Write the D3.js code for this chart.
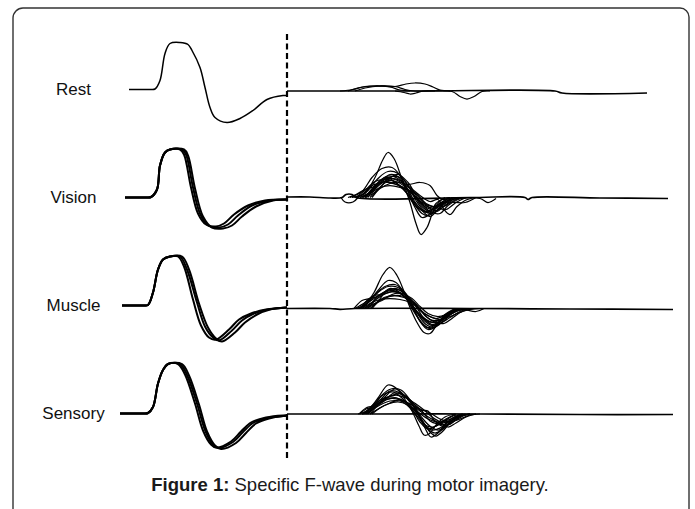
<!DOCTYPE html>
<html>
<head>
<meta charset="utf-8">
<script src="https://cdn.jsdelivr.net/npm/d3@7"></script>
<style>
  html, body { margin: 0; padding: 0; background: #fff; }
  svg { display: block; font-family: "Liberation Sans", Arial, Helvetica, sans-serif; }
</style>
</head>
<body>
<svg id="chart" width="695" height="509"></svg>
<script>
// Recording conditions, top to bottom
const conditions = ["Rest", "Vision", "Muscle", "Sensory"];

// Stimulus-to-F-window marker (ms)
const fWindowStart = 16.7;

// ---- M-wave sweeps: [time ms, amplitude] ----
const restM = [
  [[0.9,0],[3.0,0],[3.5,0.05],[4.0,0.9],[4.5,3.6],[5.0,4.6],[6.0,4.7],[6.8,4.5],[7.2,3.9],[8.0,2.2],[8.5,0.2],[9.0,-1.8],[9.5,-2.8],[10.7,-3.3],[12.0,-2.9],[13.3,-2.1],[14.7,-1.0],[16.3,-0.6],[16.7,-0.6]]
];
const visionM = [
  [[0.5,0],[2.6,0],[3.1,0.05],[3.7,0.8],[4.0,3.2],[4.5,4.5],[5.0,4.8],[6.0,4.8],[6.4,4.3],[7.1,1.0],[7.8,-1.6],[8.6,-2.7],[9.6,-2.9],[10.4,-2.6],[11.4,-1.7],[12.8,-0.8],[14.5,-0.3],[16.7,-0.2]],
  [[0.5,0],[2.6,0],[3.1,0.05],[3.7,0.8],[4.0,3.2],[4.5,4.5],[5.0,4.8],[6.2,4.8],[6.6,4.3],[7.3,1.0],[8.0,-1.6],[8.8,-2.8],[9.9,-3.0],[10.8,-2.7],[11.8,-1.8],[13.2,-0.8],[15.0,-0.3],[16.7,-0.2]],
  [[0.5,0],[2.6,0],[3.1,0.05],[3.7,0.8],[4.0,3.2],[4.5,4.5],[5.0,4.8],[6.4,4.8],[6.8,4.2],[7.5,0.9],[8.3,-1.9],[9.2,-3.0],[10.3,-3.1],[11.2,-2.8],[12.2,-1.9],[13.6,-0.9],[15.3,-0.3],[16.7,-0.2]]
];
const muscleM = [
  [[0.2,0],[2.3,0],[2.8,0.05],[3.3,1.3],[3.8,3.6],[4.3,4.6],[5.0,4.9],[5.8,4.9],[6.4,3.9],[7.3,0.6],[8.1,-2.0],[8.9,-3.2],[9.6,-3.4],[10.9,-2.4],[11.9,-1.4],[13.1,-0.8],[14.6,-0.4],[16.7,-0.2]],
  [[0.2,0],[2.3,0],[2.8,0.05],[3.3,1.3],[3.8,3.6],[4.3,4.6],[5.0,4.9],[6.0,4.9],[6.7,3.6],[7.7,0.3],[8.5,-2.1],[9.3,-3.2],[9.9,-3.5],[11.2,-2.5],[12.2,-1.5],[13.4,-0.8],[14.8,-0.4],[16.7,-0.2]],
  [[0.2,0],[2.3,0],[2.8,0.05],[3.3,1.3],[3.8,3.6],[4.3,4.6],[5.0,4.9],[6.2,4.9],[6.9,3.6],[7.9,0.2],[8.8,-2.2],[9.6,-3.3],[10.2,-3.6],[11.5,-2.7],[12.5,-1.7],[13.7,-0.9],[15.0,-0.4],[16.7,-0.2]]
];
const sensoryM = [
  [[0,0],[2.3,0],[2.8,0.05],[3.3,0.65],[3.8,3.0],[4.3,4.35],[4.8,4.95],[5.8,4.95],[6.5,3.9],[7.5,1.0],[8.3,-1.7],[9.1,-3.1],[9.6,-3.4],[11.1,-2.8],[12.1,-1.8],[13.1,-0.9],[14.6,-0.4],[16.3,-0.2],[16.7,-0.2]],
  [[0,0],[2.3,0],[2.8,0.05],[3.3,0.65],[3.8,3.0],[4.3,4.35],[4.8,4.95],[6.0,4.95],[6.7,3.85],[7.7,1.0],[8.5,-1.65],[9.3,-3.15],[9.8,-3.45],[11.3,-2.85],[12.3,-1.85],[13.3,-0.95],[14.7,-0.45],[16.3,-0.25],[16.7,-0.2]],
  [[0,0],[2.3,0],[2.8,0.05],[3.3,0.65],[3.8,3.0],[4.3,4.35],[4.8,4.95],[6.2,4.95],[6.9,3.8],[7.9,0.9],[8.7,-1.8],[9.5,-3.2],[10.1,-3.55],[11.6,-2.95],[12.6,-1.95],[13.6,-1.0],[14.9,-0.5],[16.3,-0.25],[16.7,-0.2]]
];

// ---- F-wave sweeps: baseline level of each sweep, then the baseline trace and the responses ----
const fLevel = [-0.15, 0, -0.3, -0.05];

const restFBase = [[16.7,0],[30,0],[43.5,0],[44.2,-0.2],[52.7,-0.2]];
const visionFBase = [[16.7,0.05],[19,0.05],[21,-0.05],[22.2,0],[22.6,0.3],[23.2,0.3],[23.6,0],[35,0],[40.5,0],[40.8,-0.2],[41.2,0],[48,-0.05],[54.8,-0.1]];
const muscleFBase = [[16.7,0],[21,0],[22,-0.08],[23.5,0],[35,0],[45,-0.05],[55.3,-0.1]];
const sensoryFBase = [[16.7,0],[25,0],[36,0],[46,-0.05],[55.3,-0.05]];

const restF = [
  [[22,0],[23.3,0.15],[24.5,0.45],[26,0.5],[27.5,0.45],[28.5,0.15],[29.5,0],[33.2,-0.05],[34.0,-0.55],[34.7,-0.8],[35.4,-0.55],[36.2,-0.05],[37,0]],
  [[23.5,0],[24.5,0.3],[26,0.5],[27.5,0.45],[28.6,0.7],[29.5,0.8],[30.5,0.7],[31.3,0.4],[32,0.1],[33,0]],
  [[27.5,0],[28.4,-0.15],[29,-0.3],[29.6,-0.2],[30.3,0],[31.5,0]],
  [[22.8,0],[24,0.35],[25.5,0.5],[27,0.4],[28,0.1],[29,0]]
];
const visionF = [
  [[23.5,0],[24.5,0.4],[25.5,2.0],[26.3,3.8],[26.8,4.5],[27.4,3.9],[28.2,1.8],[29.0,-0.5],[29.6,-2.6],[30.1,-3.7],[30.7,-3.0],[31.4,-1.2],[32.2,-0.2],[33,0]],
  [[23.0,0],[24.2,0.6],[25.2,2.0],[26.2,2.9],[27.2,3.0],[28.0,2.2],[28.8,0.6],[29.5,-1.0],[30.2,-2.0],[30.9,-1.7],[31.6,-0.6],[32.5,0]],
  [[24.5,0],[25.5,1.2],[26.5,2.0],[27.5,1.8],[28.7,1.3],[30,1.5],[31,1.2],[31.7,0.2],[32.3,-0.2],[33,0]],
  [[24,0],[25,0.5],[26,1.3],[27,1.9],[28,1.7],[29,1.0],[30,0.2],[31,-0.4],[31.8,-0.2],[32.4,-1.2],[33,-1.7],[33.7,-0.9],[34.5,-0.3],[35.5,0]],
  [[24.8,0],[25.6,1.2],[26.6,2.1],[27.6,2.0],[28.6,1.1],[29.4,-0.3],[30.3,-1.4],[31,-1.9],[31.8,-1.2],[32.6,-0.4],[33.4,0]],
  [[23.6,0],[24.6,0.8],[25.5,1.6],[26.4,1.8],[27.4,1.6],[28.4,0.8],[29.2,-0.4],[30,-1.2],[30.8,-1.5],[31.6,-0.9],[32.6,-0.2],[34,0]],
  [[24.2,0],[25.2,0.7],[26.0,1.5],[27.0,2.3],[27.8,2.1],[28.6,1.0],[29.4,-0.6],[30.2,-1.6],[30.9,-1.8],[31.7,-1.0],[32.5,-0.5],[34.5,-0.5],[35.6,0]],
  [[25,0],[26,0.9],[27,1.4],[28,1.5],[29,0.9],[30,-0.1],[30.8,-0.9],[31.6,-1.3],[32.4,-0.9],[33.4,-0.3],[34,0]],
  [[24,0],[25,0.4],[26,1.0],[27,1.2],[28,1.0],[29,0.6],[30,-0.4],[31,-1.0],[32,-0.6],[33,0]],
  [[24.5,0],[25.3,0.9],[26.1,1.7],[26.9,1.9],[27.9,1.2],[28.9,0.2],[29.8,-0.9],[30.6,-1.4],[31.4,-1.1],[32.3,-0.5],[33.3,-0.2],[36,-0.1],[36.8,-0.5],[37.6,-0.1]],
  [[23.2,0],[24.2,0.3],[25.2,1.2],[26.2,1.5],[27.2,1.7],[28.2,1.3],[29.2,0.4],[30.2,-0.7],[31.2,-1.2],[32.2,-0.7],[33.2,0]],
  [[24.6,0],[25.6,0.6],[26.6,1.5],[27.6,1.3],[28.6,0.8],[29.6,0.4],[30.6,-0.6],[31.6,-1.0],[32.6,-1.2],[33.6,-0.5],[34.6,0]],
  [[23.8,0],[24.8,0.7],[25.8,1.9],[26.8,2.6],[27.8,2.4],[28.8,1.2],[29.6,-0.3],[30.4,-1.3],[31.2,-1.6],[32,-1.0],[33,-0.3],[34,0]],
  [[24.3,0],[25.2,0.5],[26.2,1.6],[27.2,2.1],[28.2,1.9],[29.2,0.6],[30.1,-0.8],[30.9,-1.4],[31.7,-1.4],[32.6,-0.7],[33.6,0]],
  [[22.8,0],[23.6,0.3],[24.5,0.8],[25.4,1.1],[26.4,1.6],[27.4,1.4],[28.4,1.0],[29.4,0.2],[30.4,-0.6],[31.4,-0.9],[32.4,-0.5],[33.4,0]],
  [[25.2,0],[26,1.0],[26.8,1.8],[27.8,2.3],[28.8,1.5],[29.6,0.2],[30.4,-0.9],[31.2,-1.5],[32,-1.6],[32.8,-0.8],[33.8,-0.2],[35,0]],
  [[22.1,0],[22.5,-0.45],[23.3,-0.45],[23.8,0]]
];
const muscleF = [
  [[23.8,0],[24.6,0.5],[25.4,1.6],[26.3,3.4],[27.0,4.1],[27.7,3.3],[28.4,1.7],[29.0,0.1],[29.7,-1.4],[30.4,-2.4],[31.0,-2.5],[31.7,-1.6],[32.5,-0.6],[33.5,0]],
  [[23.5,0],[24.5,0.6],[25.5,1.4],[26.5,2.2],[27.5,2.4],[28.5,1.6],[29.3,0.2],[30.0,-1.3],[30.8,-2.1],[31.6,-1.8],[32.5,-0.8],[33.5,-0.2],[34.5,0]],
  [[24.2,0],[25,0.8],[25.8,1.6],[26.8,2.2],[27.8,2.1],[28.6,1.3],[29.4,-0.2],[30.2,-1.5],[31,-2.0],[31.8,-1.5],[32.8,-0.6],[34,0]],
  [[24.4,0],[25.2,0.6],[26,1.4],[27,1.9],[28,1.8],[29,0.8],[29.8,-0.6],[30.6,-1.6],[31.4,-1.9],[32.4,-1.2],[33.4,-0.4],[35,0]],
  [[24,0],[24.8,0.9],[25.4,1.3],[26.2,1.4],[27.2,1.7],[28.2,1.4],[29.2,0.3],[30.2,-0.9],[31.2,-1.4],[32.2,-1.0],[33.2,-0.3],[34,0]],
  [[25,0],[25.8,0.7],[26.6,1.7],[27.6,2.0],[28.6,1.4],[29.6,0.2],[30.4,-1.0],[31.2,-1.6],[32,-1.3],[33,-0.6],[34.2,-0.1],[35.6,-0.3],[36.4,0]],
  [[24.6,0],[25.4,0.4],[26.4,1.1],[27.4,1.3],[28.4,1.1],[29.4,0.6],[30.2,-0.3],[31,-1.1],[31.8,-1.2],[32.8,-0.7],[33.8,-0.2],[34.8,0]],
  [[23.6,0],[24.4,0.3],[25.4,1.0],[26.4,1.6],[27.4,1.8],[28.4,1.2],[29.4,0.0],[30.4,-1.2],[31.2,-1.7],[32,-1.5],[33,-0.9],[34,-0.3],[35,0]],
  [[25.2,0],[26,0.8],[27,1.2],[28,1.3],[29,0.9],[30,-0.2],[31,-0.8],[32,-1.1],[33,-0.8],[34,-0.4],[35,-0.1],[36,0]],
  [[24.2,0],[25,0.5],[26,0.9],[27,1.0],[28,0.9],[29,0.6],[29.8,0.1],[30.6,-0.6],[31.6,-1.0],[32.6,-0.6],[33.6,-0.1],[34.4,0]],
  [[24.0,0],[24.8,0.6],[25.8,1.8],[26.8,2.8],[27.6,2.6],[28.4,1.5],[29.2,0],[30,-1.2],[30.8,-1.9],[31.6,-1.6],[32.6,-0.6],[33.6,0]],
  [[23.4,0],[24.2,0.8],[25,1.0],[26,1.3],[27,2.0],[28,1.6],[29,0.6],[30,-0.6],[31,-1.3],[32,-1.3],[33,-0.6],[34,0]],
  [[24.8,0],[25.6,0.9],[26.6,1.5],[27.6,1.7],[28.6,1.3],[29.6,0.4],[30.6,-0.8],[31.6,-1.4],[32.4,-1.5],[33.2,-1.0],[34.2,-0.3],[35.4,0]],
  [[24.4,0],[25.2,0.4],[26.2,0.8],[27.2,1.4],[28.2,1.5],[29.2,1.0],[30,0.2],[30.8,-0.5],[31.8,-0.8],[32.8,-0.5],[33.8,0]]
];
const sensoryF = [
  [[24.2,0],[25,0.6],[25.8,1.6],[26.8,2.9],[27.6,2.6],[28.4,1.6],[29.2,0.3],[29.9,-1.2],[30.4,-2.1],[30.9,-2.0],[31.6,-1.1],[32.5,-0.3],[33.5,0]],
  [[24,0],[24.6,0.5],[25.3,0.7],[26.1,1.8],[27.1,2.5],[28.1,2.4],[29,1.4],[29.8,0.1],[30.5,-1.4],[31.1,-2.3],[31.8,-1.9],[32.6,-0.9],[33.6,-0.2],[34.5,0]],
  [[24.5,0],[25.3,0.9],[26.3,1.9],[27.3,2.2],[28.3,1.5],[29.2,0.5],[30,-0.8],[30.8,-1.5],[31.6,-1.2],[32.6,-0.5],[33.6,0]],
  [[24.3,0],[25.1,0.5],[26,1.2],[27,1.8],[28,2.0],[29,1.4],[30,0.4],[30.8,0.3],[31.4,-0.6],[32.2,-1.2],[33,-1.0],[33.8,-0.4],[34.6,0]],
  [[24.8,0],[25.6,0.8],[26.6,1.4],[27.6,1.6],[28.6,1.2],[29.6,0.2],[30.4,-1.0],[31.2,-1.6],[32,-1.4],[33,-0.7],[34,-0.2],[35,0]],
  [[23.8,0],[24.7,0.3],[25.7,1.0],[26.7,1.5],[27.7,1.5],[28.7,0.9],[29.7,-0.2],[30.5,-1.1],[31.3,-1.3],[32.3,-0.8],[33.3,-0.2],[34.3,0]],
  [[24.6,0],[25.4,0.6],[26.4,1.3],[27.4,2.1],[28.4,1.9],[29.4,1.0],[30.2,0.3],[31,-0.7],[31.8,-1.0],[32.8,-1.1],[33.6,-0.6],[34.6,-0.1],[35.6,0]],
  [[25,0],[25.8,0.5],[26.8,1.0],[27.8,1.2],[28.8,0.9],[29.8,0.2],[30.8,-0.5],[31.8,-0.8],[32.8,-0.6],[33.8,-0.2],[35,0]],
  [[24.4,0],[25.2,0.7],[26.2,1.5],[27.2,1.7],[28.2,1.4],[29.2,0.6],[30.2,-0.6],[31,-1.8],[31.6,-2.2],[32.2,-1.8],[33,-0.9],[34,-0.2],[35,0]],
  [[25.2,0],[26,0.6],[27,1.1],[28,1.4],[29,1.0],[30,0.5],[31,0.1],[32,-0.5],[33,-0.8],[34,-0.5],[35,-0.1],[36,0]],
  [[23.9,0],[24.6,0.6],[25.2,0.8],[26,1.4],[27,2.3],[28,2.1],[29,1.2],[30,-0.3],[30.8,-1.5],[31.5,-1.9],[32.3,-1.5],[33.2,-0.6],[34.2,0]],
  [[24.7,0],[25.5,0.7],[26.5,1.7],[27.5,2.5],[28.5,1.8],[29.5,0.6],[30.3,-0.5],[31.1,-1.3],[31.9,-1.6],[32.8,-1.0],[33.8,-0.3],[35,0]],
  [[24.2,0],[25,0.3],[26,0.9],[27,1.3],[28,1.3],[29,1.0],[30,0.3],[31,-0.4],[32,-0.9],[33,-0.7],[34,-0.2],[35,0]],
  [[25,0],[25.8,0.9],[26.6,1.6],[27.6,1.9],[28.6,1.6],[29.6,1.0],[30.4,0.4],[31.2,-0.3],[32,-0.8],[32.8,-1.3],[33.6,-0.9],[34.6,-0.3],[35.6,0]]
];

// Caption
const captionLead = "Figure 1:";
const captionText = " Specific F-wave during motor imagery.";

// ---- assemble per-condition table ----
const mSweeps = [restM, visionM, muscleM, sensoryM];
const fBases = [restFBase, visionFBase, muscleFBase, sensoryFBase];
const fResponses = [restF, visionF, muscleF, sensoryF];
const table = conditions.map((name, i) => ({
  name, m: mSweeps[i], fBase: fBases[i], f: fResponses[i], level: fLevel[i]
}));

// ---- scales ----
const svg = d3.select("#chart");
const x = d3.scaleLinear().domain([0, 56]).range([120, 680]);
const row = d3.scalePoint().domain(conditions).range([89.5, 413.5]);
const amp = d3.scaleLinear().domain([-5, 5]).range([50, -50]);

// ---- frame ----
svg.append("path")
  .attr("d", "M13,509 V18 A10,10 0 0 1 23,8 H680 A9,9 0 0 1 689,17 V509")
  .attr("fill", "none")
  .attr("stroke", "#333")
  .attr("stroke-width", 1.4);

const lineFor = (baseY, level) => d3.line()
  .x(d => x(d[0]))
  .y(d => baseY + amp(d[1] + level))
  .curve(d3.curveCatmullRom.alpha(0.5));

const groups = svg.selectAll("g.condition")
  .data(table)
  .join("g")
  .attr("class", "condition");

groups.each(function(c) {
  const g = d3.select(this);
  const y0 = row(c.name);
  const mLine = lineFor(y0, 0);
  const fLine = lineFor(y0, c.level);

  g.append("text")
    .attr("x", 73.5)
    .attr("y", y0 + 5.5)
    .attr("text-anchor", "middle")
    .attr("font-size", 17)
    .attr("fill", "#111")
    .text(c.name);

  g.selectAll("path.m")
    .data(c.m)
    .join("path")
    .attr("class", "m")
    .attr("d", mLine)
    .attr("fill", "none")
    .attr("stroke", "#000")
    .attr("stroke-width", c.m.length > 1 ? 2 : 1.5);

  g.append("path")
    .attr("class", "fbase")
    .attr("d", fLine(c.fBase))
    .attr("fill", "none")
    .attr("stroke", "#000")
    .attr("stroke-width", 1.7);

  g.selectAll("path.f")
    .data(c.f)
    .join("path")
    .attr("class", "f")
    .attr("d", fLine)
    .attr("fill", "none")
    .attr("stroke", "#000")
    .attr("stroke-width", 1.25);
});

// ---- stimulus / F-window marker ----
svg.append("line")
  .attr("x1", x(fWindowStart)).attr("x2", x(fWindowStart))
  .attr("y1", row(conditions[0]) + amp(5.55))
  .attr("y2", row(conditions[conditions.length - 1]) + amp(-4.65))
  .attr("stroke", "#000")
  .attr("stroke-width", 2.2)
  .attr("stroke-dasharray", "6,3.5");

// ---- caption ----
const cap = svg.append("text")
  .attr("x", 350)
  .attr("y", 491)
  .attr("text-anchor", "middle")
  .attr("font-size", 18.5)
  .attr("fill", "#1a1a1a");
cap.append("tspan").attr("font-weight", "bold").text(captionLead);
cap.append("tspan").text(captionText);
</script>
</body>
</html>
